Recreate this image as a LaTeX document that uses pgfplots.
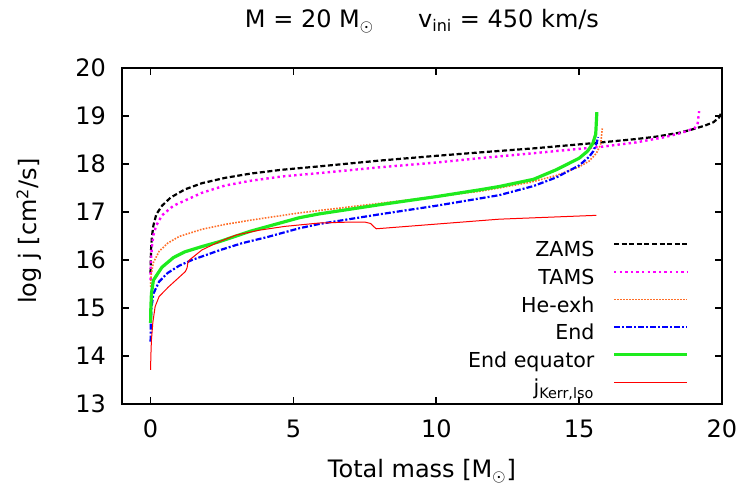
\documentclass[border=0pt]{standalone}
\usepackage{fontspec}
\setmainfont{DejaVu Sans}
\usepackage{pgfplots}
\pgfplotsset{compat=1.18}
\definecolor{cgreen}{RGB}{30,235,30}
\definecolor{corange}{RGB}{255,110,40}
\definecolor{cmag}{RGB}{255,0,255}
\definecolor{cblue}{RGB}{0,0,255}
\definecolor{cred}{RGB}{255,0,0}
\begin{document}
\begin{tikzpicture}
\begin{axis}[
  scale only axis, width=300pt, height=168pt,
  xmin=-1, xmax=20, ymin=13, ymax=20,
  xtick={0,5,10,15,20}, ytick={13,14,...,20},
  tick align=inside, major tick length=3.5pt,
  every tick/.style={black, line width=0.8pt},
  axis line style={line width=1pt},
  /pgf/number format/assume math mode=true,
  tick label style={font=\fontsize{12}{14}\selectfont},
  xticklabel style={yshift=-4.5pt},
  yticklabel style={xshift=-4.5pt},
  label style={font=\fontsize{12}{14}\selectfont},
  xlabel={Total mass [M\textsubscript{$\odot$}]},
  xlabel style={at={(rel axis cs:0.5,0)}, anchor=base, yshift=-37pt},
  ylabel={log j [cm\textsuperscript{2}/s]},
  ylabel style={at={(rel axis cs:0,0.5)}, anchor=base, yshift=42.5pt, xshift=2.5pt},
  title={M = 20 M\textsubscript{$\odot$}\hspace{22pt}v\textsubscript{ini} = 450 km/s},
  title style={font=\fontsize{12}{14}\selectfont, at={(rel axis cs:0.5,1)}, anchor=base, yshift=14pt},
  legend style={draw=none, fill=none, at={(0.945,0.008)}, anchor=south east, inner sep=0pt,
    font=\fontsize{10.3}{12}\selectfont, row sep=1.8pt, column sep=9pt,
    nodes={inner sep=0pt, text height=9pt, text depth=3pt}},
  legend cell align=right,
  legend plot pos=right,
  legend image code/.code={\draw[#1] (0pt,3.3pt) -- (36.5pt,3.3pt);},
]
\addplot[black, line width=1.1pt, dash pattern=on 2.5pt off 1.3pt] coordinates {
(0,15.73) (0.005,16.0) (0.02,16.25) (0.05,16.5) (0.1,16.72) (0.2,16.95) (0.4,17.13) (0.7,17.3) (1.2,17.47) (1.8,17.6) (2.6,17.71) (3.5,17.8) (4.6,17.88) (5.9,17.95) (8,18.07) (10,18.17) (11.5,18.24) (13.5,18.33) (15.6,18.44) (17,18.52) (17.7,18.57) (18.5,18.65) (18.9,18.71) (19.4,18.8) (19.7,18.87) (19.9,18.97) (20,19.1)
};
\addlegendentry{ZAMS}
\addplot[cmag, line width=1.2pt, dash pattern=on 1.2pt off 1.6pt] coordinates {
(0,15.58) (0.005,15.85) (0.02,16.05) (0.05,16.3) (0.1,16.52) (0.2,16.72) (0.4,16.93) (0.8,17.13) (1.8,17.4) (2.6,17.55) (3.5,17.65) (4.6,17.74) (5.9,17.81) (8,17.93) (10,18.03) (11.5,18.12) (13.5,18.23) (15.8,18.36) (17,18.45) (18,18.56) (18.6,18.65) (19.05,18.75) (19.15,18.85) (19.2,19.1)
};
\addlegendentry{TAMS}
\addplot[corange, line width=0.8pt, dash pattern=on 0.8pt off 0.7pt] coordinates {
(0,15.44) (0.01,15.6) (0.03,15.72) (0.1,15.95) (0.3,16.18) (0.6,16.35) (1.0,16.49) (1.8,16.64) (2.6,16.74) (3.5,16.83) (5.2,16.98) (5.9,17.03) (8,17.18) (10,17.32) (11.5,17.43) (12.2,17.5) (13.3,17.62) (14.2,17.76) (15.0,17.94) (15.35,18.06) (15.6,18.22) (15.75,18.4) (15.81,18.74)
};
\addlegendentry{He-exh}
\addplot[cblue, line width=1.1pt, dash pattern=on 3pt off 1pt on 1pt off 1pt] coordinates {
(0,14.3) (0.01,14.7) (0.03,15.0) (0.1,15.3) (0.3,15.55) (0.6,15.73) (1.0,15.88) (1.45,16.0) (2.4,16.2) (3.2,16.35) (4.1,16.48) (5.2,16.66) (5.9,16.75) (8,16.95) (10,17.13) (11.5,17.28) (12.2,17.35) (13.4,17.54) (14.2,17.72) (15.0,17.97) (15.35,18.15) (15.5,18.27) (15.62,18.45) (15.66,18.56)
};
\addlegendentry{End}
\addplot[cgreen, line width=1.6pt] coordinates {
(0,14.69) (0.01,15.0) (0.03,15.3) (0.1,15.58) (0.4,15.85) (0.8,16.05) (1.2,16.17) (1.8,16.28) (2.4,16.38) (3.5,16.6) (5.2,16.88) (5.9,16.96) (8,17.15) (10,17.32) (11.5,17.46) (12.2,17.53) (13.4,17.68) (14.2,17.88) (15.0,18.12) (15.3,18.27) (15.48,18.43) (15.58,18.62) (15.62,19.08)
};
\addlegendentry{End equator}
\addplot[cred, line width=0.5pt] coordinates {
(0,13.71) (0.01,14.0) (0.03,14.33) (0.08,14.7) (0.16,15.03) (0.3,15.24) (0.63,15.44) (1.0,15.64) (1.22,15.76) (1.28,15.84) (1.3,15.93) (1.36,16.0) (1.8,16.21) (2.4,16.38) (3.0,16.52) (3.8,16.62) (4.7,16.7) (5.9,16.77) (7.0,16.79) (7.5,16.79) (7.7,16.76) (7.8,16.7) (7.9,16.65) (12.2,16.85) (15.6,16.93)
};
\addlegendentry{j\textsubscript{Kerr,lso}}
\end{axis}
\pgfresetboundingbox
\path[use as bounding box] ([xshift=-61pt,yshift=-46.5pt]current axis.south west) rectangle ([xshift=11pt,yshift=34pt]current axis.north east);
\end{tikzpicture}
\end{document}
